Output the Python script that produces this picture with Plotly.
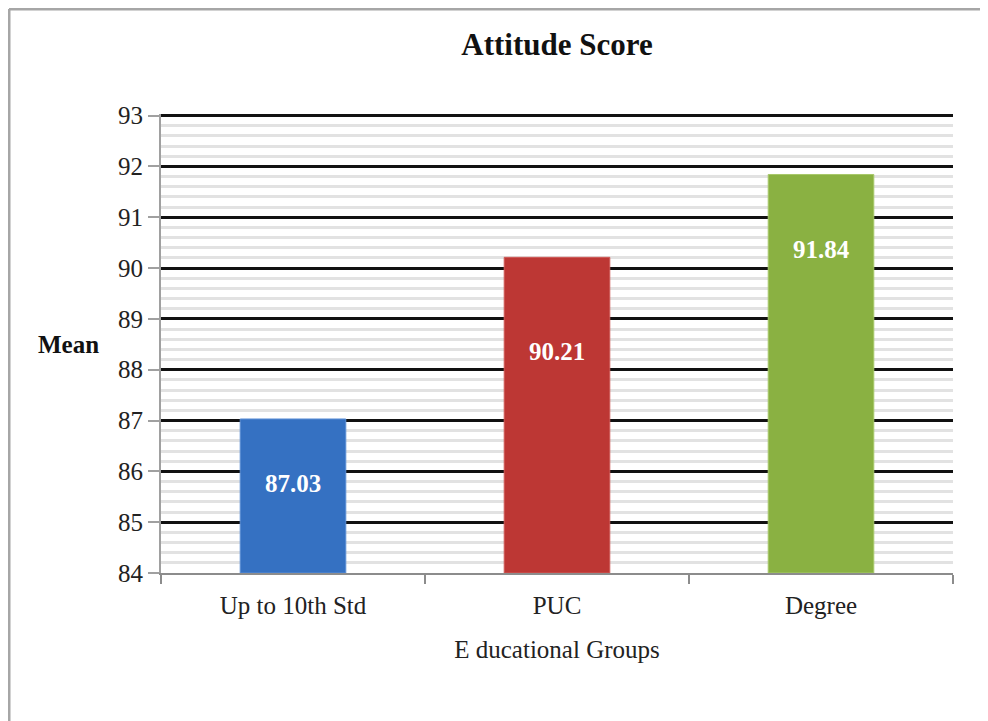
import plotly.graph_objects as go

categories = ["Up to 10th Std", "PUC", "Degree"]
means = [87.03, 90.21, 91.84]
label_texts = ["87.03", "90.21", "91.84"]
label_y = [85.77, 88.36, 90.37]
bar_colors = ["#3571c2", "#bd3734", "#8ab142"]
bar_edges = ["#5b8fd6", "#cf5a57", "#a7c86a"]
y_ticks = [84, 85, 86, 87, 88, 89, 90, 91, 92, 93]

SERIF = "Liberation Serif, Times New Roman, serif"

W, H = 980, 713
L, R, T, B = 153, 35, 106, 148
PW, PH = W - L - R, H - T - B

fig = go.Figure()
fig.add_trace(go.Bar(
    x=categories, y=[m - 84 for m in means], base=84,
    marker=dict(color=bar_colors, line=dict(color=bar_edges, width=1)),
    hoverinfo="skip", showlegend=False,
))

for c, t, ly in zip(categories, label_texts, label_y):
    fig.add_annotation(x=c, y=ly, text="<b>%s</b>" % t, showarrow=False,
                       font=dict(family=SERIF, size=25, color="white"))

fig.add_annotation(xref="paper", yref="paper", x=(60 - L) / PW, y=(H - B - 336) / PH,
                   text="<b>Mean</b>", showarrow=False, xanchor="center", yanchor="middle",
                   font=dict(family=SERIF, size=25, color="#111111"))

# chart border
bx = (1 - L) / PW
by = (H - B - 1) / PH
fig.add_shape(type="line", xref="paper", yref="paper",
              x0=bx, x1=1.2, y0=by, y1=by,
              line=dict(color="#a6a6a6", width=3))
fig.add_shape(type="line", xref="paper", yref="paper",
              x0=bx, x1=bx, y0=by, y1=-0.5,
              line=dict(color="#a6a6a6", width=3))

fig.update_layout(
    width=W, height=H,
    margin=dict(l=L, r=R, t=T, b=B),
    paper_bgcolor="white", plot_bgcolor="white",
    bargap=0.6,
    title=dict(text="<b>Attitude Score</b>", x=0.5, xref="paper", xanchor="center",
               y=1 - 36 / H, yanchor="middle",
               font=dict(family=SERIF, size=31, color="#111111")),
    font=dict(family=SERIF, size=25, color="#222222"),
    xaxis=dict(
        showline=True, linecolor="#8c8c8c", linewidth=2,
        ticks="outside", tickson="boundaries", ticklen=9, tickcolor="#8c8c8c", tickwidth=2,
        ticklabelstandoff=9,
        showgrid=False, tickfont=dict(family=SERIF, size=25, color="#222222"),
        title=dict(text="E ducational Groups", standoff=22,
                   font=dict(family=SERIF, size=25, color="#222222")),
    ),
    yaxis=dict(
        range=[84, 93.03], tickvals=y_ticks,
        showline=True, linecolor="#a0a0a0", linewidth=2,
        ticks="outside", ticklen=11, tickcolor="#a0a0a0", tickwidth=2,
        showgrid=True, gridcolor="#111111", gridwidth=3,
        minor=dict(dtick=0.2, showgrid=True, gridcolor="#e2e2e2", gridwidth=3),
        zeroline=False,
        tickfont=dict(family=SERIF, size=25, color="#222222"),
    ),
)

fig.write_html("out.html")
